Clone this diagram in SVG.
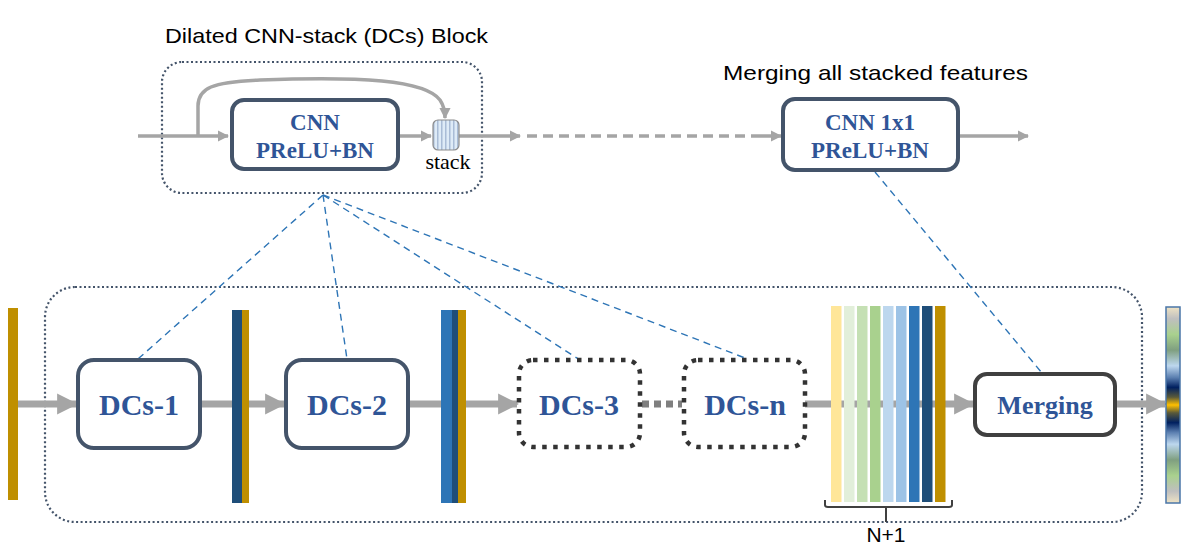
<svg xmlns="http://www.w3.org/2000/svg" width="1191" height="554" viewBox="0 0 1191 554">
<style>
.lbl{font-family:"Liberation Sans",Arial,sans-serif;font-size:21px;fill:#000}
.bt{font-family:"Liberation Serif","Times New Roman",serif;font-weight:bold;fill:#2F5597;text-anchor:middle}
.box{fill:#fff;stroke:#44546A;stroke-width:4}
.dbox{fill:#fff;stroke:#333;stroke-width:4.5;stroke-dasharray:4.5 6.5}
.flow{stroke:#A5A5A5;fill:none}
.fan{stroke:#2E75B6;stroke-width:1.4;stroke-dasharray:7 5;fill:none}
.frame{fill:none;stroke:#44546A;stroke-width:2.2;stroke-dasharray:2 2.5}
</style>
<defs>
<marker id="ah" viewBox="0 0 10 10" refX="9" refY="5" markerWidth="3" markerHeight="3.2" orient="auto" markerUnits="strokeWidth"><path d="M0,0 L10,5 L0,10 z" fill="#A5A5A5"/></marker>
<marker id="ahs" viewBox="0 0 10 10" refX="9" refY="5" markerWidth="3.2" markerHeight="3.2" orient="auto" markerUnits="strokeWidth"><path d="M0,0 L10,5 L0,10 z" fill="#A5A5A5"/></marker>
<linearGradient id="outg" x1="0" y1="0" x2="0" y2="1">
<stop offset="0" stop-color="#EFE3C4"/>
<stop offset="0.06" stop-color="#BFBFBF"/>
<stop offset="0.14" stop-color="#A9D18E"/>
<stop offset="0.22" stop-color="#7F9F80"/>
<stop offset="0.3" stop-color="#BDD7EE"/>
<stop offset="0.36" stop-color="#5B7FB0"/>
<stop offset="0.41" stop-color="#002060"/>
<stop offset="0.46" stop-color="#5A5A3A"/>
<stop offset="0.5" stop-color="#FFC000"/>
<stop offset="0.54" stop-color="#5A5A3A"/>
<stop offset="0.59" stop-color="#002060"/>
<stop offset="0.64" stop-color="#5B7FB0"/>
<stop offset="0.7" stop-color="#BDD7EE"/>
<stop offset="0.78" stop-color="#7F9F80"/>
<stop offset="0.86" stop-color="#A9D18E"/>
<stop offset="0.94" stop-color="#BFBFBF"/>
<stop offset="1" stop-color="#EFE3C4"/>
</linearGradient>
<pattern id="stripes" x="433" y="0" width="4" height="10" patternUnits="userSpaceOnUse">
<rect width="4" height="10" fill="#DEEBF7"/>
<rect width="1.5" height="10" fill="#A9BCD6"/>
</pattern>
</defs>

<rect width="1191" height="554" fill="#fff"/>

<!-- titles -->
<text class="lbl" x="165" y="43" textLength="323" lengthAdjust="spacingAndGlyphs">Dilated CNN-stack (DCs) Block</text>
<text class="lbl" x="723" y="80" textLength="305" lengthAdjust="spacingAndGlyphs">Merging all stacked features</text>

<!-- frames -->
<rect class="frame" x="162" y="62" width="320" height="131" rx="20"/>
<rect class="frame" x="45" y="287" width="1097" height="235" rx="30"/>

<!-- connectors -->
<g id="connectors">
<line class="flow" x1="138" y1="136" x2="228" y2="136" stroke-width="3.5" marker-end="url(#ahs)"/>
<path class="flow" d="M198,136 L198,106 C198,88 212,82 260,80 C360,76 425,80 440,100 C444,106 445,110 445,118" stroke-width="3.5" marker-end="url(#ahs)"/>
<line class="flow" x1="400" y1="136" x2="431" y2="136" stroke-width="3.5" marker-end="url(#ahs)"/>
<line class="flow" x1="459" y1="136" x2="520" y2="136" stroke-width="3.5" marker-end="url(#ahs)"/>
<line class="flow" x1="527" y1="136" x2="760" y2="136" stroke-width="3.5" stroke-dasharray="10 6"/>
<line class="flow" x1="760" y1="136" x2="781" y2="136" stroke-width="3.5" marker-end="url(#ahs)"/>
<line class="flow" x1="958" y1="136" x2="1028" y2="136" stroke-width="3.5" marker-end="url(#ahs)"/>

<line class="flow" x1="18" y1="404" x2="76" y2="404" stroke-width="7" marker-end="url(#ah)"/>
<line class="flow" x1="200" y1="404" x2="232" y2="404" stroke-width="7"/>
<line class="flow" x1="249" y1="404" x2="284" y2="404" stroke-width="7" marker-end="url(#ah)"/>
<line class="flow" x1="408" y1="404" x2="441" y2="404" stroke-width="7"/>
<line class="flow" x1="466" y1="404" x2="517" y2="404" stroke-width="7" marker-end="url(#ah)"/>
<line x1="642" y1="404" x2="682" y2="404" stroke="#7F7F7F" stroke-width="7" stroke-dasharray="7 5"/>
<line class="flow" x1="805" y1="404" x2="973" y2="404" stroke-width="7" marker-end="url(#ah)"/>
<line class="flow" x1="1115" y1="404" x2="1165" y2="404" stroke-width="7" marker-end="url(#ah)"/>

<line class="fan" x1="323" y1="195" x2="138" y2="359"/>
<line class="fan" x1="323" y1="195" x2="347" y2="359"/>
<line class="fan" x1="323" y1="195" x2="580" y2="360"/>
<line class="fan" x1="323" y1="195" x2="745" y2="358"/>
<line class="fan" x1="875" y1="172" x2="1042" y2="373"/>
</g>

<!-- feature bars -->
<g id="bars">
<rect x="8" y="308" width="10" height="192" fill="#BF8F00"/>
<rect x="232" y="310" width="10" height="193" fill="#1F4E79"/>
<rect x="242" y="310" width="7" height="193" fill="#BF8F00"/>
<rect x="441" y="310" width="11" height="193" fill="#2E75B6"/>
<rect x="452" y="310" width="6" height="193" fill="#1F4E79"/>
<rect x="458" y="310" width="8" height="193" fill="#BF8F00"/>
<g id="stackbars">
<rect x="831" y="306" width="10.5" height="196" fill="#FFE699"/>
<rect x="844" y="306" width="10.5" height="196" fill="#E2EFDA"/>
<rect x="857" y="306" width="10.5" height="196" fill="#C5E0B4"/>
<rect x="870" y="306" width="10.5" height="196" fill="#A9D18E"/>
<rect x="883" y="306" width="10.5" height="196" fill="#BDD7EE"/>
<rect x="896" y="306" width="10.5" height="196" fill="#9DC3E6"/>
<rect x="909" y="306" width="10.5" height="196" fill="#2E75B6"/>
<rect x="922" y="306" width="10.5" height="196" fill="#1F4E79"/>
<rect x="935" y="306" width="10.5" height="196" fill="#BF8F00"/>
</g>
<path d="M825,500 V505 Q825,507 828,507 H949 Q952,507 952,505 V500 M886,507 V522" fill="none" stroke="#404040" stroke-width="2"/>
<text class="lbl" x="886" y="542" text-anchor="middle" font-size="23">N+1</text>
<rect x="1166" y="307" width="14" height="196" fill="url(#outg)" stroke="#4A76A8" stroke-width="1.5"/>
</g>

<!-- top nodes -->
<g id="cnn">
<rect class="box" x="232" y="100" width="166" height="69" rx="12"/>
<text class="bt" x="315" y="130" font-size="23">CNN</text>
<text class="bt" x="315" y="158" font-size="23">PReLU+BN</text>
</g>
<g id="stack">
<rect x="433" y="120" width="26" height="30" rx="5" fill="url(#stripes)" stroke="#8C8C8C" stroke-width="1.2"/>
<text x="448" y="169" text-anchor="middle" font-family="Liberation Serif,'Times New Roman',serif" font-size="22" fill="#000">stack</text>
</g>
<g id="cnn1x1">
<rect class="box" x="783" y="99" width="175" height="71" rx="12"/>
<text class="bt" x="870" y="130" font-size="23">CNN 1x1</text>
<text class="bt" x="870" y="158" font-size="23">PReLU+BN</text>
</g>

<!-- bottom nodes -->
<g id="dcs1">
<rect class="box" x="78" y="360" width="122" height="88" rx="16"/>
<text class="bt" x="139" y="415" font-size="30">DCs-1</text>
</g>
<g id="dcs2">
<rect class="box" x="286" y="360" width="122" height="88" rx="16"/>
<text class="bt" x="347" y="415" font-size="30">DCs-2</text>
</g>
<g id="dcs3">
<rect class="dbox" x="519" y="360" width="121" height="87" rx="14"/>
<text class="bt" x="579" y="415" font-size="30">DCs-3</text>
</g>
<g id="dcsn">
<rect class="dbox" x="684" y="360" width="121" height="87" rx="14"/>
<text class="bt" x="745" y="415" font-size="30">DCs-n</text>
</g>
<g id="merging">
<rect x="975" y="374" width="140" height="61" rx="12" fill="#fff" stroke="#404040" stroke-width="4"/>
<text class="bt" x="1045" y="414" font-size="26">Merging</text>
</g>
</svg>
